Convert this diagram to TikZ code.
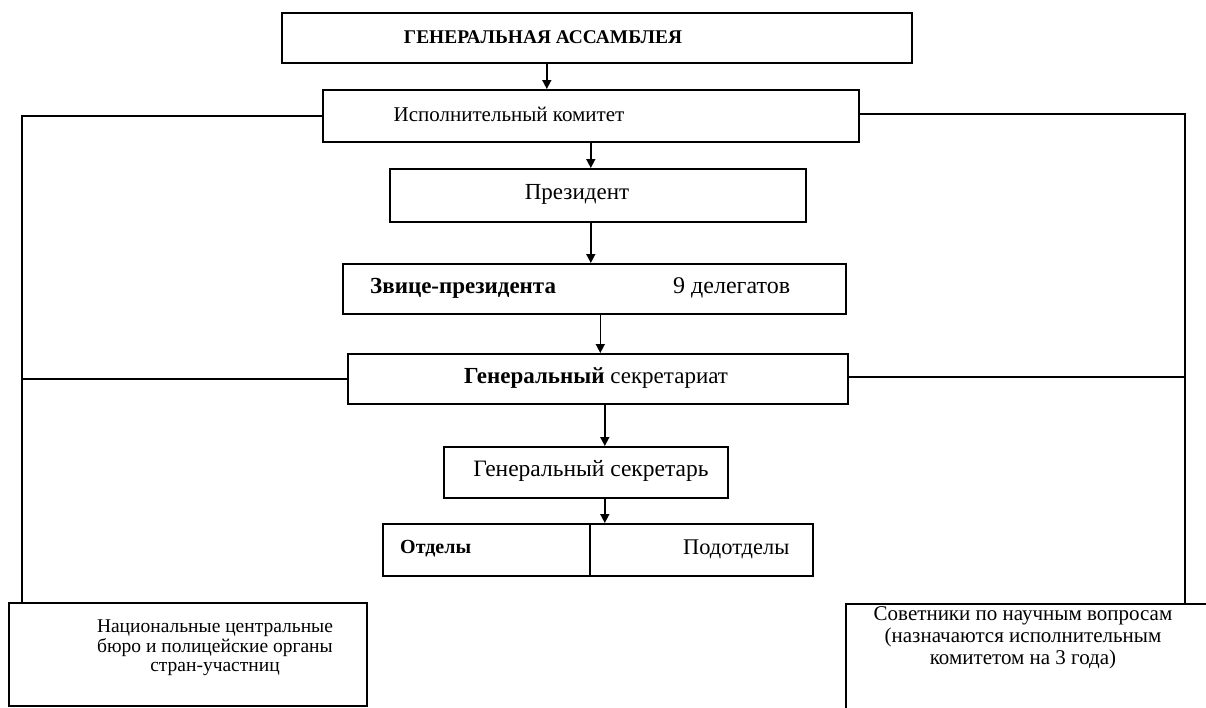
\documentclass[tikz,border=0pt]{standalone}
\usepackage{fontspec}
\setmainfont{Liberation Serif}
\usetikzlibrary{arrows.meta}
\newcommand{\fs}[1]{\fontsize{#1}{#1}\selectfont}
\begin{document}
\begin{tikzpicture}[x=1pt,y=-1pt,
  box/.style={draw,line width=1.6pt,minimum width=#1,inner sep=0pt,anchor=north west},
  lbl/.style={inner sep=0pt},
  conn/.style={line width=1.6pt},
  arr/.style={line width=1.6pt,-{Triangle[length=9pt,width=9pt]}}]
\useasboundingbox (0,0) rectangle (1206,707);
\clip (0,0) rectangle (1206,707);
% boxes
\node[box=630pt,minimum height=50pt] (ga) at (281,12) {};
\node[box=536pt,minimum height=52pt] (isp) at (322,89) {};
\node[box=416pt,minimum height=53pt] (pres) at (389,168) {};
\node[box=503pt,minimum height=50pt] (vp) at (342,263) {};
\node[box=500pt,minimum height=50pt] (gs) at (347,353) {};
\node[box=284pt,minimum height=51pt] (sec) at (443,446) {};
\node[box=430pt,minimum height=52pt] (otd) at (382,523) {};
\node[box=358pt,minimum height=103pt] (nat) at (8,602) {};
\node[box=370pt,minimum height=112pt] (sov) at (845,603) {};
% texts
\node[lbl,font=\fs{19.4}\bfseries] (gat) at (543,37) {ГЕНЕРАЛЬНАЯ АССАМБЛЕЯ};
\node[lbl,font=\fs{21}] (ispt) at (509,114) {Исполнительный комитет};
\node[lbl,font=\fs{23}] (prest) at (577,194) {Президент};
\node[lbl,anchor=west,font=\fs{23}\bfseries] (vpa) at (370,288) {Звице-президента};
\node[lbl,anchor=west,font=\fs{24}] (vpb) at (673,288) {9 делегатов};
\node[lbl,font=\fs{23}] (gst) at (596,378) {\textbf{Генеральный} секретариат};
\node[lbl,font=\fs{23.5}] (sect) at (591,471) {Генеральный секретарь};
\draw[conn] (otd.north) ++(-8,0) coordinate (dtop) -- (dtop |- otd.south);
\node[lbl,anchor=west,font=\fs{20}\bfseries] (otda) at (400,549) {Отделы};
\node[lbl,anchor=west,font=\fs{22.4}] (otdb) at (683,549) {Подотделы};
\node[lbl,align=center,font=\fontsize{19.5}{19.5}\selectfont] (natt) at (215,648) {Национальные центральные\\бюро и полицейские органы\\стран-участниц};
\node[lbl,align=center,font=\fontsize{21}{22}\selectfont] (sovt) at (1023,638) {Советники по научным вопросам\\(назначаются исполнительным\\комитетом на 3 года)};
% arrows
\draw[arr] ([xshift=-44pt]ga.south -| isp.north) coordinate (a1) -- (a1 |- isp.north);
\draw[arr] (isp.south) -- (isp.south |- pres.north);
\draw[arr] (pres.south -| isp.south) -- (isp.south |- vp.north);
\draw[arr] ([xshift=6pt]vp.south) coordinate (a4) -- (a4 |- gs.north);
\draw[arr] ([xshift=7pt]gs.south) coordinate (a5) -- (a5 |- sec.north);
\draw[arr] (a5 |- sec.south) -- (a5 |- otd.north);
% side buses
\coordinate (lx) at (22,0);
\coordinate (rx) at (1185,0);
\draw[conn] (isp.west) -- (isp.west -| lx) -- (lx |- nat.north);
\draw[conn] (gs.west) -- (gs.west -| lx);
\draw[conn] ([yshift=2pt]isp.east) -- ([yshift=2pt]isp.east -| rx) -- (rx |- sov.north);
\draw[conn] ([yshift=2pt]gs.east) -- ([yshift=2pt]gs.east -| rx);
\end{tikzpicture}
\end{document}
